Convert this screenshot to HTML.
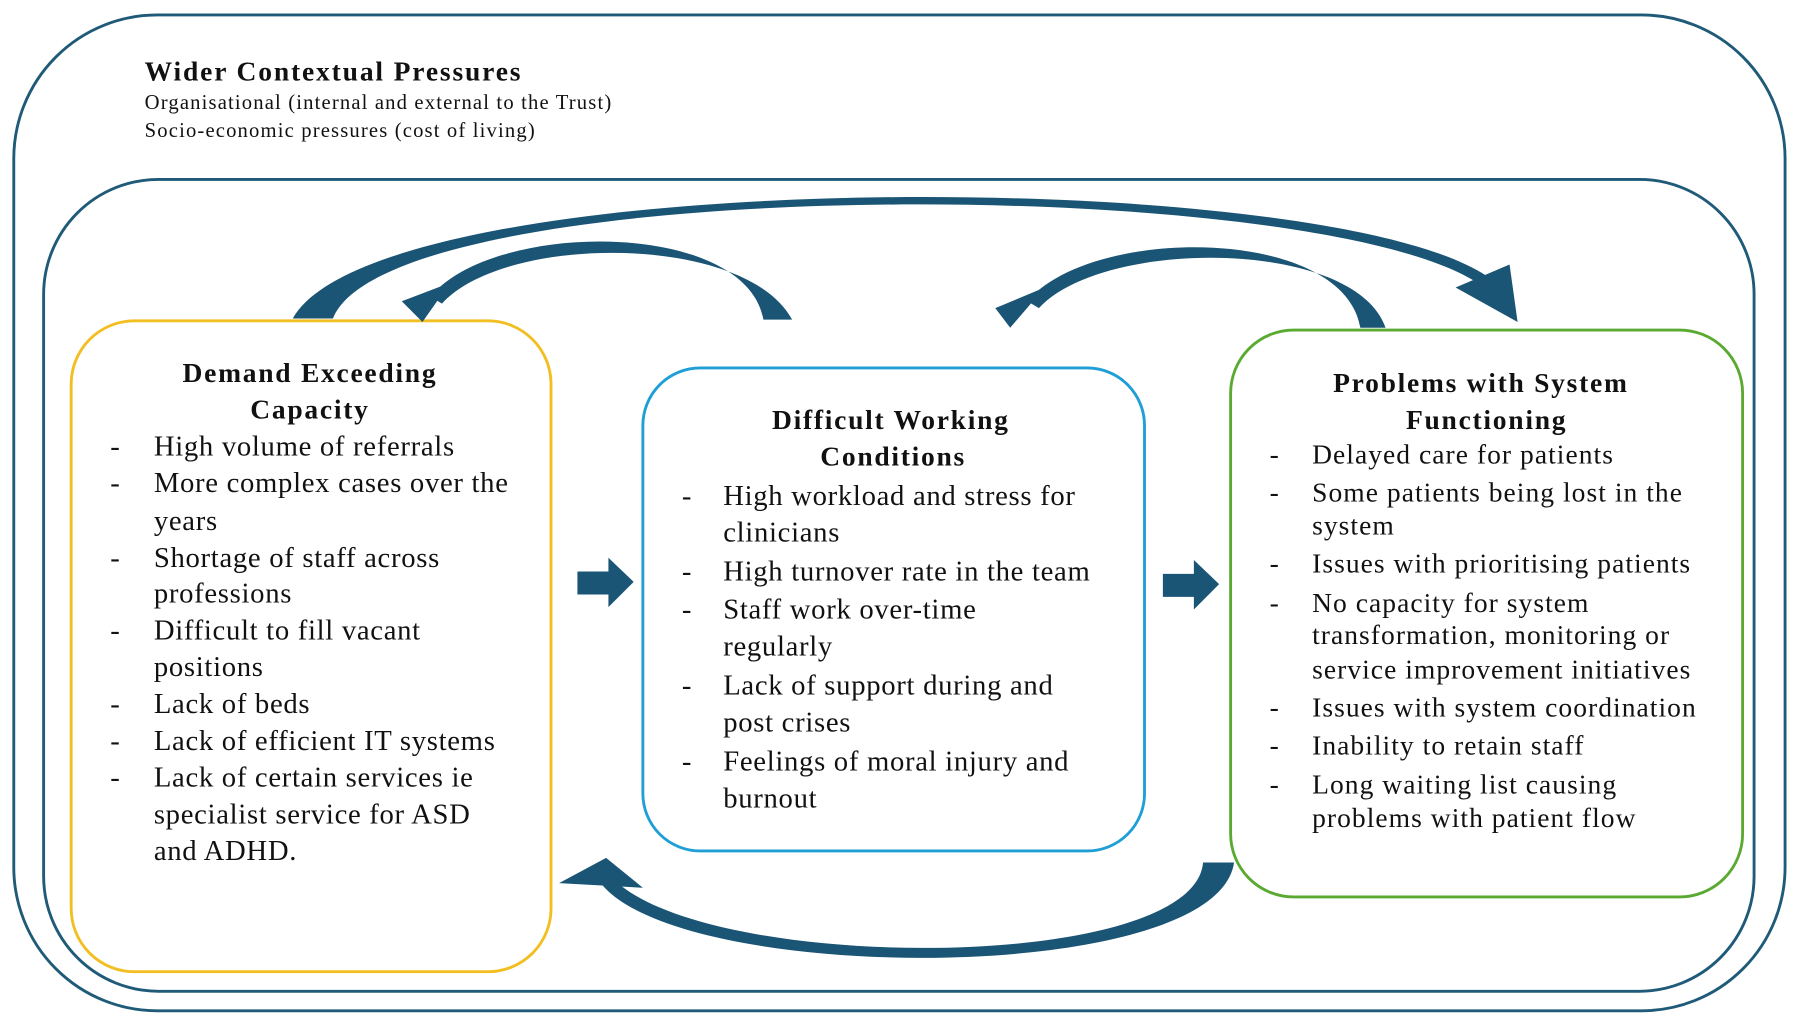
<!DOCTYPE html>
<html><head><meta charset="utf-8"><style>html,body{margin:0;padding:0;background:#fff}svg{display:block}</style></head>
<body>
<svg width="1800" height="1020" viewBox="0 0 1568 887" preserveAspectRatio="none" xmlns="http://www.w3.org/2000/svg" font-family="Liberation Serif, serif">
<rect x="12" y="13" width="1543" height="866" rx="125" fill="none" stroke="#1f5a78" stroke-width="2.5"/>
<rect x="38" y="156" width="1490" height="706" rx="100" fill="none" stroke="#1f5a78" stroke-width="2.5"/>
<rect x="62" y="279" width="418" height="566" rx="55" fill="none" stroke="#f2bf22" stroke-width="2.5"/>
<rect x="560" y="320" width="437" height="420" rx="50" fill="none" stroke="#1f9fd6" stroke-width="2.5"/>
<rect x="1072" y="287" width="446" height="493" rx="55" fill="none" stroke="#5aaa32" stroke-width="2.5"/>
<g fill="#1b5575">
<path d="M255 277 C330 143,1150 143,1295 240 L1290 248 C1150 150,340 150,290 277 Z"/>
<polygon points="1268,250 1315,230 1322,280"/>
<path d="M665 278 C650 191,430 191,375 258 L385 264 C440 203,650 203,690 278 Z"/>
<polygon points="350,262 392,246 368,280"/>
<path d="M1185 285 C1170 196,950 196,895 262 L905 268 C960 207,1180 207,1207 285 Z"/>
<polygon points="867,268 910,250 880,285"/>
<path d="M1075 750 C1060 857,600 857,525 770 L532 762 C610 847,1040 847,1048 750 Z"/>
<polygon points="487,768 528,746 560,772"/>
<polygon points="503,497 530,497 530,485 552,506 530,528 530,517 503,517"/>
<polygon points="1013,499 1040,499 1040,487 1062,508 1040,530 1040,519 1013,519"/>
</g>
<g fill="#111">
<text x="126" y="70" font-size="24" font-weight="bold" letter-spacing="1.6">Wider Contextual Pressures</text>
<text x="126" y="95" font-size="18" letter-spacing="1">Organisational (internal and external to the Trust)</text>
<text x="126" y="119" font-size="18" letter-spacing="1">Socio-economic pressures (cost of living)</text>
<g font-size="24" font-weight="bold" text-anchor="middle" letter-spacing="1.5">
<text x="270" y="332">Demand Exceeding</text><text x="270" y="364">Capacity</text>
<text x="776" y="373">Difficult Working</text><text x="778" y="405">Conditions</text>
<text x="1290" y="341">Problems with System</text><text x="1295" y="373">Functioning</text>
</g>
<g font-size="25" letter-spacing="0.6">
<text x="96" y="396">-</text><text x="134" y="396">High volume of referrals</text>
<text x="96" y="428">-</text><text x="134" y="428">More complex cases over the</text>
<text x="134" y="461">years</text>
<text x="96" y="493">-</text><text x="134" y="493">Shortage of staff across</text>
<text x="134" y="524">professions</text>
<text x="96" y="556">-</text><text x="134" y="556">Difficult to fill vacant</text>
<text x="134" y="588">positions</text>
<text x="96" y="620">-</text><text x="134" y="620">Lack of beds</text>
<text x="96" y="652">-</text><text x="134" y="652">Lack of efficient IT systems</text>
<text x="96" y="684">-</text><text x="134" y="684">Lack of certain services ie</text>
<text x="134" y="716">specialist service for ASD</text>
<text x="134" y="748">and ADHD.</text>

<text x="594" y="439">-</text><text x="630" y="439">High workload and stress for</text>
<text x="630" y="471">clinicians</text>
<text x="594" y="505">-</text><text x="630" y="505">High turnover rate in the team</text>
<text x="594" y="538">-</text><text x="630" y="538">Staff work over-time</text>
<text x="630" y="570">regularly</text>
<text x="594" y="604">-</text><text x="630" y="604">Lack of support during and</text>
<text x="630" y="636">post crises</text>
<text x="594" y="670">-</text><text x="630" y="670">Feelings of moral injury and</text>
<text x="630" y="702">burnout</text>
</g>
<g font-size="24" letter-spacing="0.9">
<text x="1106" y="403">-</text><text x="1143" y="403">Delayed care for patients</text>
<text x="1106" y="436">-</text><text x="1143" y="436">Some patients being lost in the</text>
<text x="1143" y="465">system</text>
<text x="1106" y="498">-</text><text x="1143" y="498">Issues with prioritising patients</text>
<text x="1106" y="532">-</text><text x="1143" y="532">No capacity for system</text>
<text x="1143" y="560">transformation, monitoring or</text>
<text x="1143" y="590">service improvement initiatives</text>
<text x="1106" y="623">-</text><text x="1143" y="623">Issues with system coordination</text>
<text x="1106" y="656">-</text><text x="1143" y="656">Inability to retain staff</text>
<text x="1106" y="690">-</text><text x="1143" y="690">Long waiting list causing</text>
<text x="1143" y="719">problems with patient flow</text>
</g>
</g>
</svg>
</body></html>
